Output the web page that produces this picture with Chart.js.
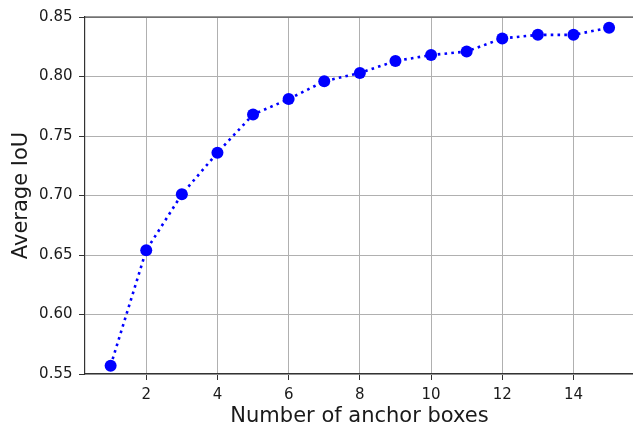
<!DOCTYPE html>
<html>
<head>
<meta charset="utf-8">
<script src="https://cdn.jsdelivr.net/npm/chart.js@4/dist/chart.umd.min.js"></script>
<style>
  html, body { margin: 0; padding: 0; background: #fff; overflow: hidden; }
  #wrap { width: 633px; height: 429px; overflow: hidden; }
  canvas { display: block; }
</style>
</head>
<body>
<div id="wrap"><canvas id="c" width="645" height="429"></canvas></div>
<script>
// Number of anchor boxes (k) and the average IoU reached for each k
const anchorCounts = [1, 2, 3, 4, 5, 6, 7, 8, 9, 10, 11, 12, 13, 14, 15];
const avgIoU = [0.557, 0.654, 0.701, 0.736, 0.768, 0.781, 0.796, 0.803, 0.813, 0.818, 0.821, 0.832, 0.835, 0.835, 0.841];

// Axis tick positions
const xTicks = [2, 4, 6, 8, 10, 12, 14];
const yTicks = [0.55, 0.60, 0.65, 0.70, 0.75, 0.80, 0.85];

const FONT = "'DejaVu Sans', sans-serif";
const TEXT = '#1a1a1a';
const SPINE = '#333333';
const GRID = '#b0b0b0';

const points = anchorCounts.map((k, i) => ({ x: k, y: avgIoU[i] }));

// Dark frame line along the top of the plot area
const topSpine = {
  id: 'topSpine',
  afterDraw(chart) {
    const { ctx, chartArea } = chart;
    ctx.save();
    ctx.strokeStyle = SPINE;
    ctx.lineWidth = 1.2;
    ctx.beginPath();
    ctx.moveTo(chartArea.left, chartArea.top);
    ctx.lineTo(chartArea.right, chartArea.top);
    ctx.stroke();
    ctx.restore();
  }
};

new Chart(document.getElementById('c'), {
  type: 'line',
  data: {
    datasets: [{
      data: points,
      borderColor: '#0000ff',
      backgroundColor: '#0000ff',
      borderWidth: 2.6,
      borderDash: [2.6, 4.2],
      borderCapStyle: 'butt',
      pointRadius: 6,
      pointHoverRadius: 6,
      pointBorderWidth: 0,
      pointBackgroundColor: '#0000ff',
      tension: 0,
      fill: false
    }]
  },
  options: {
    responsive: false,
    animation: false,
    events: [],
    layout: { padding: { top: 17, right: 11, bottom: 0, left: 0 } },
    plugins: { legend: { display: false }, tooltip: { enabled: false } },
    scales: {
      x: {
        type: 'linear',
        min: 0.28,
        max: 15.7,
        afterFit(scale) { scale.height = 55; },
        afterBuildTicks(scale) { scale.ticks = xTicks.map(v => ({ value: v })); },
        grid: {
          color: GRID,
          lineWidth: 1,
          tickColor: SPINE,
          tickLength: 6,
          drawTicks: true
        },
        border: { display: true, color: SPINE, width: 1.2 },
        ticks: {
          autoSkip: false,
          maxRotation: 0,
          padding: 6,
          color: TEXT,
          font: { family: FONT, size: 15 },
          callback: v => String(v)
        },
        title: {
          display: true,
          text: 'Number of anchor boxes',
          color: TEXT,
          font: { family: FONT, size: 21 },
          padding: { top: 0, bottom: 0 }
        }
      },
      y: {
        type: 'linear',
        min: 0.55,
        max: 0.85,
        afterFit(scale) { scale.width = 85; },
        afterBuildTicks(scale) { scale.ticks = yTicks.map(v => ({ value: v })); },
        grid: {
          color: GRID,
          lineWidth: 1,
          tickColor: SPINE,
          tickLength: 6,
          drawTicks: true
        },
        border: { display: true, color: SPINE, width: 1.2 },
        ticks: {
          autoSkip: false,
          padding: 6.5,
          color: TEXT,
          font: { family: FONT, size: 15 },
          callback: v => Number(v).toFixed(2)
        },
        title: {
          display: true,
          text: 'Average IoU',
          color: TEXT,
          font: { family: FONT, size: 21 },
          padding: { top: 9, bottom: 0 }
        }
      }
    }
  },
  plugins: [topSpine]
});
</script>
</body>
</html>
